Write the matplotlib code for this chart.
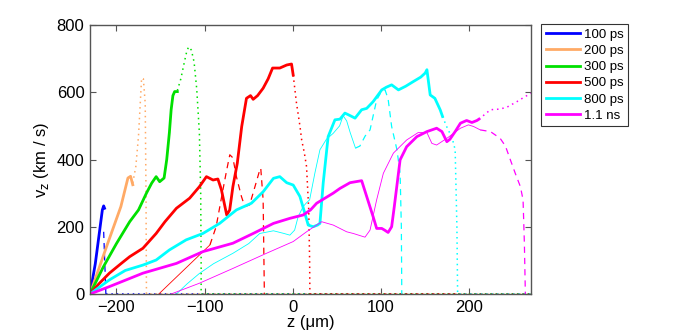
import matplotlib
matplotlib.use("Agg")
import matplotlib.pyplot as plt

plt.rcParams['font.family'] = ['Liberation Sans', 'DejaVu Sans']

labels = ["100 ps", "200 ps", "300 ps", "500 ps", "800 ps", "1.1 ns"]
colors = ["#0000ff", "#ffaa66", "#00e000", "#ff0000", "#00ffff", "#ff00ff"]

# 100 ps
z_thick_100 = [-230, -224, -219, -216, -214.5, -213.5]
v_thick_100 = [0, 90, 190, 250, 262, 255]
z_dash_100 = [-214.5, -212]
v_dash_100 = [185, 0]
z_dot_100 = [-212, 270]
v_dot_100 = [0, 0]

# 200 ps
z_thick_200 = [-230, -210, -195, -187, -184, -181.5]
v_thick_200 = [0, 150, 260, 345, 350, 325]
z_dot_200 = [-181.5, -178, -175, -171.5, -169.5, -167.4, -166.5, -166, 270]
v_dot_200 = [330, 380, 470, 642, 640, 567, 300, 0, 0]

# 300 ps
z_thick_300 = [-230, -215, -200, -185, -175, -166, -160, -155, -151, -146,
               -143, -140, -138, -136, -134, -131]
v_thick_300 = [0, 80, 150, 215, 250, 300, 330, 349, 334, 345,
               400, 480, 548, 590, 602, 602]
z_dot_300 = [-131, -127, -123, -120, -118, -115, -112, -109, -106, -104.5, -104, -104, 270]
v_dot_300 = [605, 640, 690, 725, 735, 725, 690, 610, 480, 300, 100, 0, 0]

# 500 ps
z_thick_500 = [-230, -220, -208, -195, -185, -170, -155, -145, -132, -117, -106, -98,
               -90.5, -85, -81, -77, -75, -71.6, -68, -63, -58, -52.6, -48, -45, -40,
               -33.7, -28, -23, -14.8, -7, -1.5, 0.4]
v_thick_500 = [0, 30, 62, 90, 111, 136, 180, 215, 255, 285, 319, 349,
               339, 342, 310, 260, 235, 250, 319, 389, 498, 582, 590, 579, 590,
               612, 640, 672, 672, 681, 684, 651]
z_thin_500 = [-152, -94]
v_thin_500 = [0, 146]
z_dash_500 = [-94, -87, -80, -75, -71.5, -68, -64, -58.3, -54.5, -49, -43, -37.5,
              -36.4, -33.7, -32.3]
v_dash_500 = [146, 200, 300, 369, 414, 405, 349, 290, 260, 265, 319, 369,
              374, 280, 0]
z_dot_500 = [0.4, 4, 8, 10, 13, 15.5, 18, 19, 19.3, 270]
v_dot_500 = [651, 570, 500, 458, 420, 379, 250, 100, 0, 0]

# 800 ps
z_thick_800 = [-230, -208, -190, -170, -155, -140, -121, -102, -83, -64, -47, -33.7,
               -22, -14.8, -7, 0.4, 8, 13.6, 17.4, 23, 28, 30.7, 34.4, 40, 47.7,
               53.4, 59, 63, 70.5, 78, 83.7, 91, 100.8, 106, 112, 119.7, 128, 136.7,
               145, 150, 152, 155.7, 161, 167, 169.7]
v_thick_800 = [0, 42, 70, 86, 101, 131, 161, 180, 210, 250, 270, 304,
               344, 349, 331, 324, 290, 240, 205, 200, 205, 210, 330, 468, 518,
               520, 538, 533, 523, 548, 552, 572, 607, 615, 622, 607, 618, 632,
               645, 657, 667, 592, 582, 548, 528]
z_thin_800 = [-132, -120, -106, -90, -68, -50, -37.5, -22, -10, -3.4, 2, 6, 11.7,
              15, 19, 25, 30.7, 38, 45.8, 53, 57, 61, 65, 71]
v_thin_800 = [0, 30, 61, 90, 121, 150, 180, 188, 180, 175, 190, 230, 260,
              270, 280, 360, 429, 460, 478, 500, 530, 515, 480, 434]
z_dash_800 = [71, 76, 82, 87.5, 95, 100, 104.5, 108, 112, 118, 121.6, 123, 123.5]
v_dash_800 = [434, 440, 470, 488, 577, 600, 607, 580, 498, 429, 359, 200, 0]
z_dot_800 = [169.7, 174, 178, 181, 184, 186, 186.8, 270]
v_dot_800 = [528, 500, 478, 460, 429, 200, 0, 0]

# 1.1 ns
z_thick_1100 = [-230, -208, -170, -132, -102, -68, -45, -22, -3.4, 11.7, 20, 27,
                45.8, 53.4, 64.8, 78, 83.7, 91, 95, 100.8, 104, 108, 112, 115,
                117.8, 121.6, 129, 140.6, 152, 163, 169, 174.6, 178, 184, 190,
                197, 203, 208.7, 211]
v_thick_1100 = [0, 22, 62, 91, 126, 151, 180, 210, 225, 235, 250, 270,
                300, 314, 331, 337, 290, 230, 195, 195, 190, 183, 200, 260,
                319, 399, 438, 468, 483, 493, 483, 453, 460, 483, 508,
                516, 510, 516, 520]
z_thin_1100 = [-138, -106, -68, -30, 0.4, 15.5, 32.6, 45.8, 61, 68.5, 81.8, 87.5,
               95, 102.6, 114, 129, 142, 152, 157.6, 163, 174.6, 190, 199, 205, 212.5]
v_thin_1100 = [0, 32, 76, 121, 156, 185, 215, 205, 185, 180, 169, 190,
               280, 359, 419, 458, 480, 480, 448, 443, 463, 493, 503, 498, 488]
z_dash_1100 = [212.5, 224, 235, 241, 246.6, 252, 258, 261, 262.5, 263.6]
v_dash_1100 = [488, 483, 463, 440, 399, 360, 319, 280, 150, 0]
z_dot_1100 = [211, 218, 224, 235, 243, 254, 262, 270]
v_dot_1100 = [520, 535, 548, 550, 556, 572, 585, 597]

thick = [(z_thick_100, v_thick_100), (z_thick_200, v_thick_200), (z_thick_300, v_thick_300),
         (z_thick_500, v_thick_500), (z_thick_800, v_thick_800), (z_thick_1100, v_thick_1100)]
thin = [None, None, None, (z_thin_500, v_thin_500), (z_thin_800, v_thin_800),
        (z_thin_1100, v_thin_1100)]
dashed = [(z_dash_100, v_dash_100), None, None, (z_dash_500, v_dash_500),
          (z_dash_800, v_dash_800), (z_dash_1100, v_dash_1100)]
dotted = [(z_dot_100, v_dot_100), (z_dot_200, v_dot_200), (z_dot_300, v_dot_300),
          (z_dot_500, v_dot_500), (z_dot_800, v_dot_800), (z_dot_1100, v_dot_1100)]

fig = plt.figure(figsize=(6.92, 3.36), dpi=100)
ax = fig.add_axes([90 / 692, 42 / 336, 441 / 692, 269 / 336])

handles = []
for i in range(len(labels)):
    c = colors[i]
    if thin[i] is not None:
        ax.plot(thin[i][0], thin[i][1], color=c, lw=0.6)
    if dashed[i] is not None:
        ax.plot(dashed[i][0], dashed[i][1], color=c, lw=0.9, ls=(0, (5, 4)))
    ax.plot(dotted[i][0], dotted[i][1], color=c, lw=1.1, ls=(0, (1, 2.5)))
    h, = ax.plot(thick[i][0], thick[i][1], color=c, lw=2.0)
    handles.append(h)

ax.set_xlim(-230, 270)
ax.set_ylim(0, 800)
ax.set_xticks([-200, -100, 0, 100, 200])
ax.set_yticks([0, 200, 400, 600, 800])
ax.tick_params(direction='in', length=4, top=True, right=True, labelsize=12,
               color='#555555', width=0.8, pad=4)
for s in ax.spines.values():
    s.set_color('#555555')
    s.set_linewidth(1.0)

ax.set_xlabel("z (\u03bcm)", fontsize=12, labelpad=0)
ax.set_ylabel("v$_{\\rm z}$ (km / s)", fontsize=12, labelpad=4)

leg = fig.legend(handles, labels, loc='upper left', bbox_to_anchor=(541 / 692, 1 - 24 / 336),
                 fontsize=9.5, frameon=True, fancybox=False, handlelength=2.6,
                 handletextpad=0.3, labelspacing=0.3, borderpad=0.35, borderaxespad=0)
leg.get_frame().set_edgecolor('black')
leg.get_frame().set_linewidth(0.8)

fig.savefig("out.png", dpi=100)
